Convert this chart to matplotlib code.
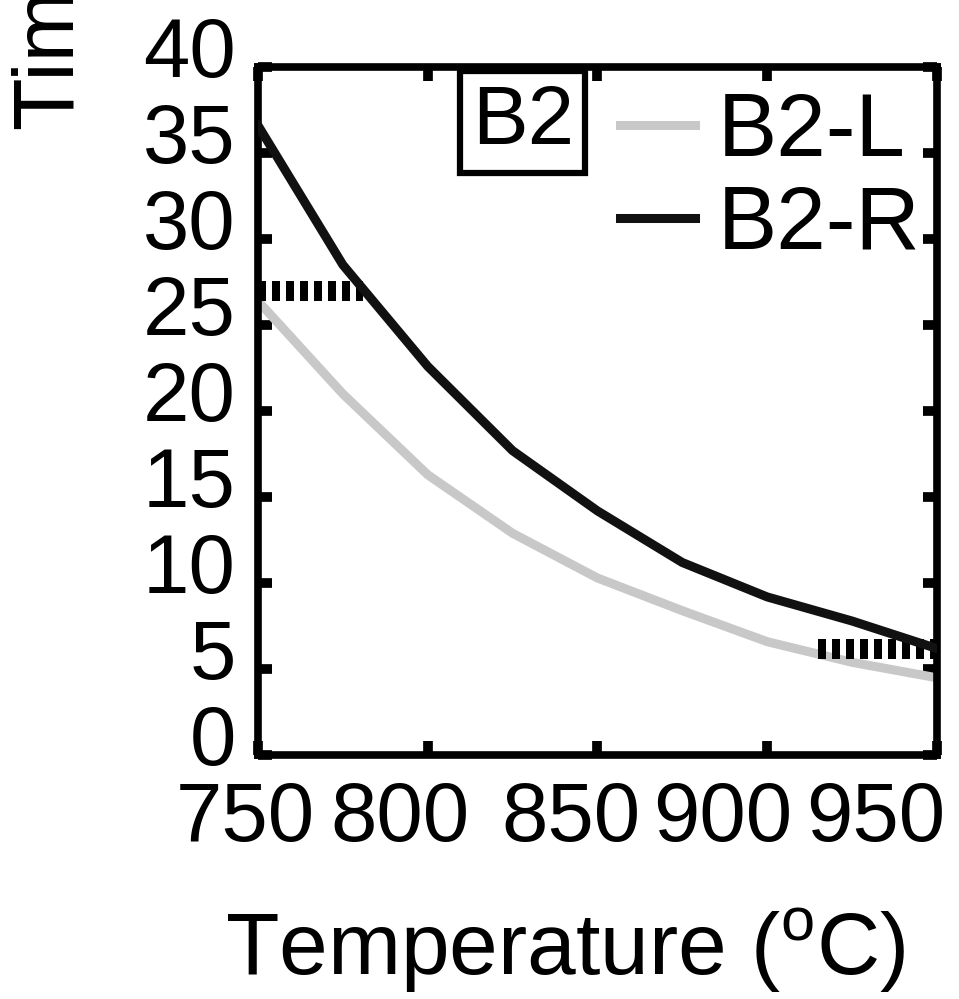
import numpy as np
import matplotlib
matplotlib.use('Agg')
import matplotlib.pyplot as plt
import matplotlib.transforms as mtransforms

plt.rcParams['font.family'] = 'Liberation Sans'
plt.rcParams['mathtext.fontset'] = 'custom'
plt.rcParams['mathtext.rm'] = 'Liberation Sans'
plt.rcParams['axes.linewidth'] = 5.5
plt.rcParams['xtick.direction'] = 'in'
plt.rcParams['ytick.direction'] = 'in'

# data
temps = [750, 775, 800, 825, 850, 875, 900, 925, 950]
b2_l = [26.4, 21.0, 16.3, 12.9, 10.3, 8.4, 6.6, 5.4, 4.5]
b2_r = [36.6, 28.5, 22.6, 17.7, 14.2, 11.2, 9.2, 7.8, 6.2]

# hatched markers near the ends
mark_left_x = [750, 781]
mark_left_y = [27.0, 27.0]
mark_right_x = [915, 950]
mark_right_y = [6.2, 6.2]

xticks = [750, 800, 850, 900, 950]
yticks = [0, 5, 10, 15, 20, 25, 30, 35, 40]

fig = plt.figure(figsize=(9.59, 9.99), dpi=100)
ax = fig.add_axes([0.269, 0.244, 0.708, 0.689])

ax.plot(temps, b2_l, color='#c8c8c8', lw=6.5, label='B2-L', zorder=2)
ax.plot(mark_left_x, mark_left_y, color='k', lw=14.4, linestyle=(0, (0.4, 0.3)),
        solid_capstyle='butt', zorder=3)
ax.plot(mark_right_x, mark_right_y, color='k', lw=14.4, linestyle=(0, (0.4, 0.3)),
        solid_capstyle='butt', zorder=3)
ax.plot(temps, b2_r, color='#111111', lw=6.5, label='B2-R', zorder=4)

ax.set_xlim(750, 950)
ax.set_ylim(0, 40)
ax.set_xticks(xticks)
ax.set_yticks(yticks)
ax.tick_params(axis='both', which='major', length=10, width=7, labelsize=60,
               top=True, right=True)
ax.tick_params(axis='x', pad=18)
ax.tick_params(axis='y', pad=16)

# tick label shifts as in the original
x_shift = [-9, -20, -19, -32, -44]
for lab, dx in zip(ax.get_xticklabels(), x_shift):
    lab.set_transform(lab.get_transform() + mtransforms.ScaledTranslation(dx / 72, 0, fig.dpi_scale_trans))
for lab in ax.get_yticklabels():
    lab.set_transform(lab.get_transform() + mtransforms.ScaledTranslation(0, 15 / 72, fig.dpi_scale_trans))

ax.set_xlabel('Temperature ($^{\\rm o}$C)', fontsize=63)
ax.xaxis.set_label_coords(0.452, -0.348)
ax.xaxis.label.set_va('bottom')
fig.text(0.012, 0.87, 'Time (min)', rotation=90, fontsize=62, ha='left', va='bottom')

ax.text(0.39, 0.92, 'B2', transform=ax.transAxes, fontsize=60, ha='center', va='center',
        bbox=dict(boxstyle='square,pad=0.14', facecolor='white', edgecolor='k', linewidth=4.5),
        zorder=5)

ax.legend(loc='upper right', bbox_to_anchor=(0.975, 0.965), frameon=False, fontsize=64,
          handlelength=0.85, handletextpad=0.25, labelspacing=0.1, borderpad=0,
          borderaxespad=0)

fig.savefig('out.png', dpi=100)
